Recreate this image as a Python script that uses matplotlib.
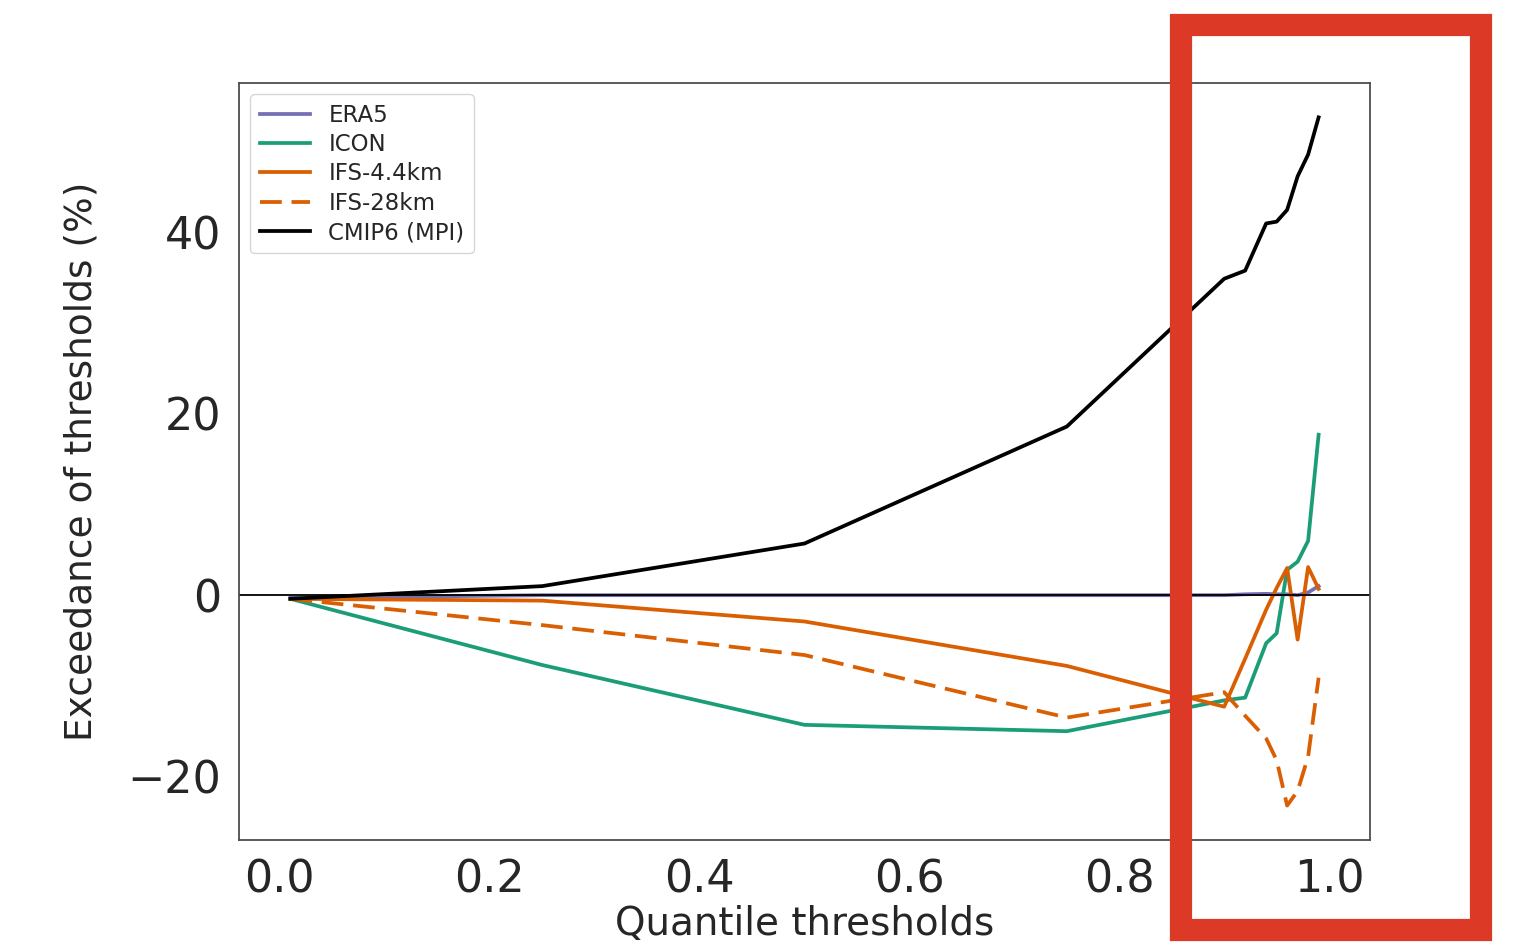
import matplotlib
matplotlib.use("Agg")
import matplotlib.pyplot as plt
from matplotlib.patches import Rectangle

quantiles = [0.01, 0.25, 0.5, 0.75, 0.9, 0.92, 0.94, 0.95, 0.96, 0.97, 0.98, 0.99]

era5 = [-0.3, 0.0, 0.0, 0.0, 0.0, 0.1, 0.15, 0.1, 0.1, 0.0, 0.3, 1.0]
icon = [-0.4, -7.7, -14.3, -15.0, -11.6, -11.3, -5.3, -4.2, 2.8, 3.7, 6.0, 17.7]
ifs_4km = [-0.4, -0.6, -2.9, -7.8, -12.3, -7.0, -1.6, 0.8, 3.0, -4.9, 3.1, 0.7]
ifs_28km = [-0.4, -3.3, -6.6, -13.5, -10.7, -13.3, -15.8, -18.2, -23.2, -21.6, -17.8, -9.1]
cmip6 = [-0.4, 1.0, 5.7, 18.6, 34.9, 35.8, 41.0, 41.2, 42.5, 46.2, 48.6, 52.7]

text_col = "#262626"
plt.rcParams["font.family"] = "DejaVu Sans"

fig = plt.figure(figsize=(15.27, 9.46), dpi=100)
ax = fig.add_axes([0.1565, 0.1121, 0.7407, 0.8002])

lw = 2.7
ax.plot(quantiles, era5, color="#7570b3", lw=lw, label="ERA5")
ax.plot(quantiles, icon, color="#1b9e77", lw=lw, label="ICON")
ax.plot(quantiles, ifs_4km, color="#d95f02", lw=lw, label="IFS-4.4km")
ax.plot(quantiles, ifs_28km, color="#d95f02", lw=lw, ls=(0, (5.8, 2.6)), label="IFS-28km")
ax.plot(quantiles, cmip6, color="black", lw=lw, label="CMIP6 (MPI)")
ax.axhline(0, color="black", lw=1.3)

ax.set_yticks([-20, 0, 20, 40])
ax.set_xticks([0.0, 0.2, 0.4, 0.6, 0.8, 1.0])
ax.tick_params(axis="both", length=0, pad=13, labelsize=32, colors=text_col)
ax.set_xlabel("Quantile thresholds", fontsize=28, color=text_col, labelpad=3)
ax.set_ylabel("Exceedance of thresholds (%)", fontsize=27, color=text_col, labelpad=20)
for s in ax.spines.values():
    s.set_color("#4d4d4d")
    s.set_linewidth(1.3)

leg = ax.legend(loc="upper left", fontsize=16.5, frameon=True, handlelength=2.2,
                borderaxespad=0.5, labelspacing=0.28)
leg.get_frame().set_edgecolor("#cccccc")
for t in leg.get_texts():
    t.set_color(text_col)

# red highlight box drawn over the figure
W, H = 1527, 946
x0, y0, x1, y1 = 1181, 25, 1481, 930
fig.patches.append(Rectangle((x0 / W, 1 - y1 / H), (x1 - x0) / W, (y1 - y0) / H,
                             transform=fig.transFigure, fill=False,
                             edgecolor="#dc3a26", lw=16, zorder=10))

fig.savefig("out.png", dpi=100)
